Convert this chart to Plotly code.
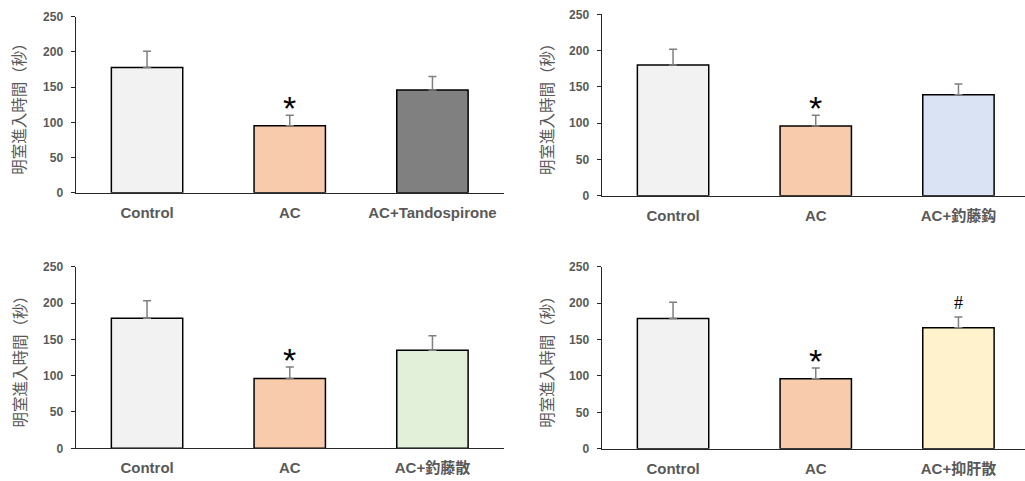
import plotly.graph_objects as go

W, H = 1025, 481

categories_1 = ["Control", "AC", "AC+Tandospirone"]
values_1 = [178, 95, 146]
errors_1 = [23, 15, 19]
colors_1 = ["#F2F2F2", "#F8CBAD", "#808080"]

categories_2 = ["Control", "AC", "AC+釣藤鈎"]
values_2 = [180, 96, 139]
errors_2 = [22, 15, 15]
colors_2 = ["#F2F2F2", "#F8CBAD", "#DAE3F3"]

categories_3 = ["Control", "AC", "AC+釣藤散"]
values_3 = [179, 96, 135]
errors_3 = [24, 16, 20]
colors_3 = ["#F2F2F2", "#F8CBAD", "#E2F0D9"]

categories_4 = ["Control", "AC", "AC+抑肝散"]
values_4 = [179, 96, 166]
errors_4 = [22, 15, 15]
colors_4 = ["#F2F2F2", "#F8CBAD", "#FFF2CC"]

marks_4 = ["", "*", "#"]
marks_default = ["", "*", ""]

y_ticks = [0, 50, 100, 150, 200, 250]
y_title = "明室進入時間（秒）"

panels = [
    (categories_1, values_1, errors_1, colors_1, marks_default),
    (categories_2, values_2, errors_2, colors_2, marks_default),
    (categories_3, values_3, errors_3, colors_3, marks_default),
    (categories_4, values_4, errors_4, colors_4, marks_4),
]

# pixel layout: (axis_left_px, y0_px, y250_px, title_x_px)
geom = [
    (75.7, 192.7, 16.7, 18),
    (601.7, 195.7, 14.3, 546),
    (75.7, 448.3, 266.7, 18),
    (601.7, 448.7, 266.7, 546),
]
CAT_PX = 142.7

LATIN = "Liberation Sans, Arial, Noto Sans CJK JP"
GRAY = "#595959"

fig = go.Figure()
annotations = []
for i, ((cats, vals, errs, cols, marks), (xl, y0, y250, tx)) in enumerate(zip(panels, geom)):
    n = i + 1
    xname = "x" if n == 1 else f"x{n}"
    yname = "y" if n == 1 else f"y{n}"
    width_px = 3 * CAT_PX
    xr = xl + width_px
    x_hi = 2.5
    if xr > W:
        x_hi = -0.5 + (W - xl) / CAT_PX
        xr = W
    fig.add_trace(go.Bar(
        x=cats, y=vals,
        marker=dict(color=cols, line=dict(color="#000000", width=1.5)),
        error_y=dict(type="data", array=errs, arrayminus=[0] * len(errs),
                     symmetric=False, color="#7F7F7F", thickness=1.5, width=4),
        xaxis=xname, yaxis=yname, showlegend=False, hoverinfo="skip",
    ))
    ax_x = dict(domain=[xl / W, xr / W], range=[-0.5, x_hi], type="category",
                showline=True, linecolor="#262626", linewidth=1.3, ticks="",
                showgrid=False, zeroline=False, anchor=yname, automargin=False,
                tickfont=dict(family=LATIN, size=15, color=GRAY, weight="bold"),
                ticklabelstandoff=6)
    ax_y = dict(domain=[1 - y0 / H, 1 - y250 / H], range=[0, 250],
                tickvals=y_ticks, showline=True, linecolor="#262626", linewidth=1.3,
                ticks="outside", ticklen=4, tickcolor="#262626", tickwidth=1.3,
                showgrid=False, zeroline=False, anchor=xname, automargin=False,
                tickfont=dict(family=LATIN, size=12, color=GRAY, weight="bold"),
                ticklabelstandoff=5)
    fig.update_layout(**{("xaxis" if n == 1 else f"xaxis{n}"): ax_x,
                         ("yaxis" if n == 1 else f"yaxis{n}"): ax_y})
    annotations.append(dict(
        text=y_title, textangle=-90, xref="paper", yref="paper",
        x=tx / W, y=1 - ((y0 + y250) / 2) / H, xanchor="center", yanchor="middle",
        showarrow=False, font=dict(family="Noto Sans CJK JP", size=15.5, color=GRAY)))
    for c, v, e, m in zip(cats, vals, errs, marks):
        if not m:
            continue
        if m == "*":
            annotations.append(dict(text="*", x=c, y=v + e, xref=xname, yref=yname,
                                    showarrow=False, yanchor="middle", yshift=7,
                                    font=dict(family="Liberation Sans", size=34, color="#000000")))
        else:
            annotations.append(dict(text=m, x=c, y=v + e, xref=xname, yref=yname,
                                    showarrow=False, yanchor="middle", yshift=14,
                                    font=dict(family="Liberation Serif", size=18, color="#000000")))

fig.update_layout(width=W, height=H, margin=dict(l=0, r=0, t=0, b=0, autoexpand=False),
                  paper_bgcolor="white", plot_bgcolor="white",
                  bargap=0.5, annotations=annotations)

fig.write_html("out.html", config={"displayModeBar": False},
               post_script="document.body.style.margin='0';document.body.style.overflow='hidden';")
